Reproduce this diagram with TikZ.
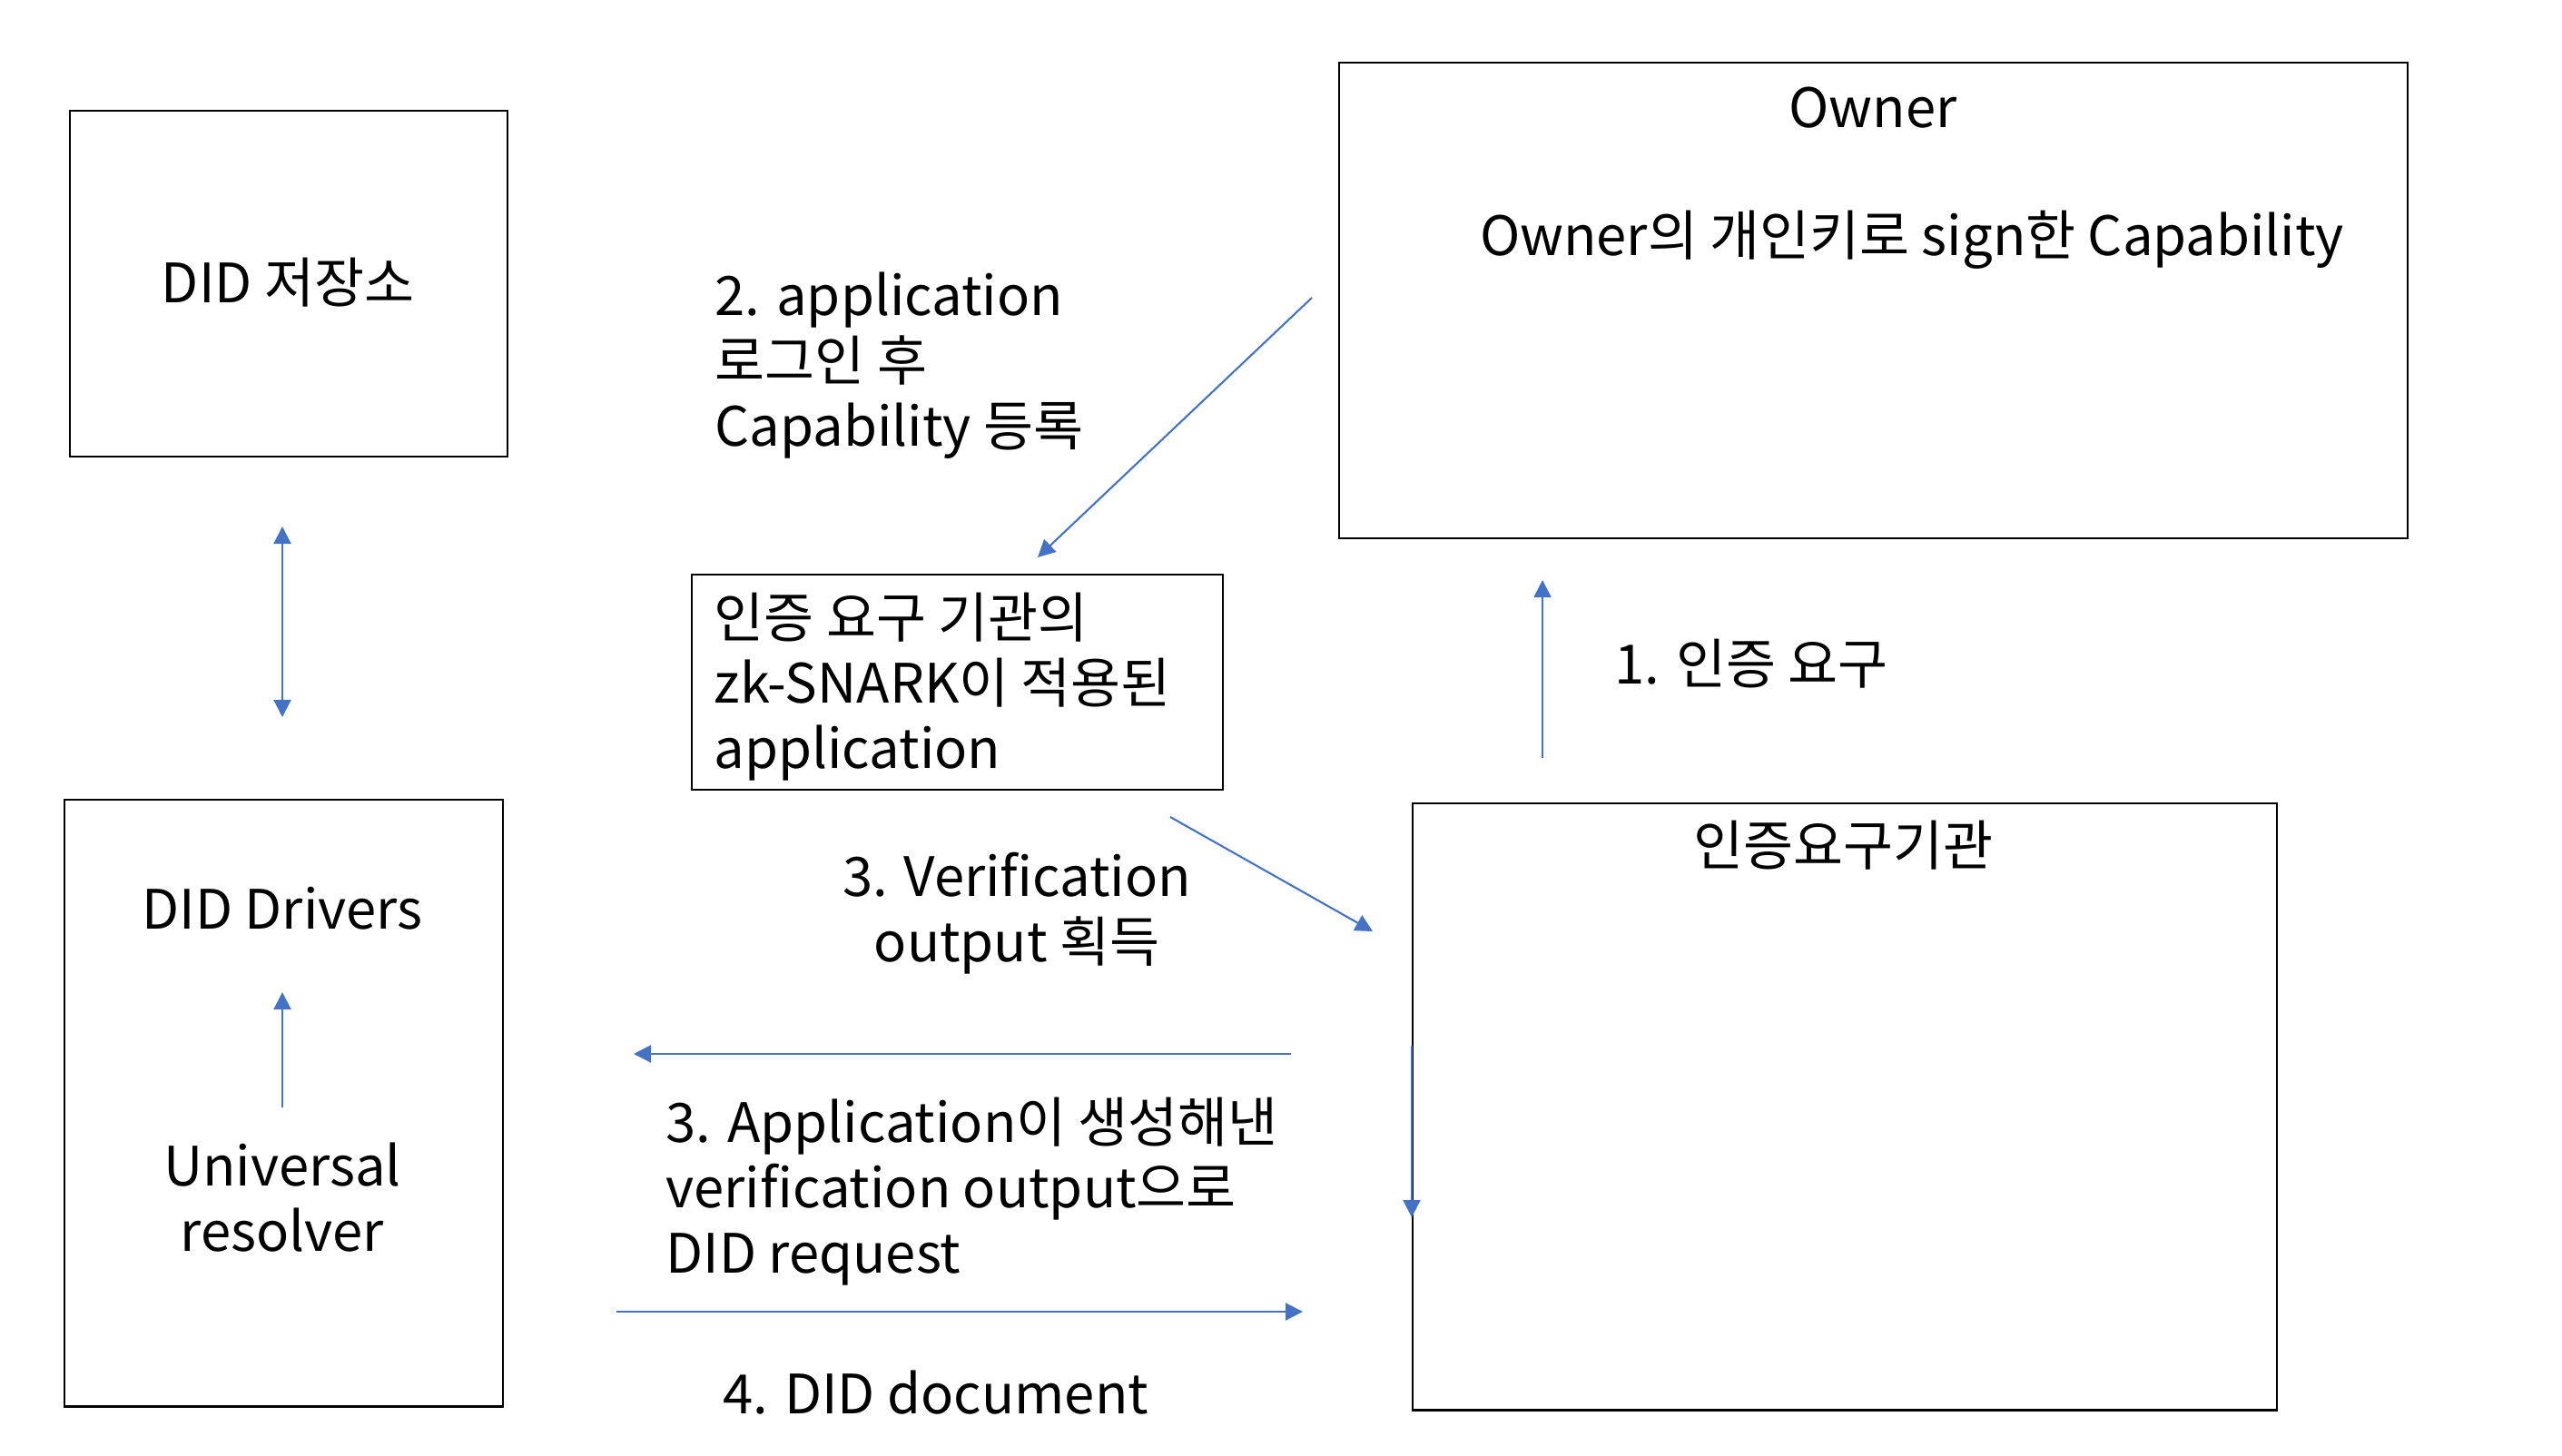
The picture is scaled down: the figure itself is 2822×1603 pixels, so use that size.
\documentclass[tikz,border=0pt]{standalone}
\usepackage{fontspec}
\setmainfont{Noto Sans CJK KR}
\usetikzlibrary{arrows.meta}
\usetikzlibrary{positioning}
\definecolor{linkblue}{HTML}{4472C4}
\tikzset{tri/.tip={Triangle[length=0.19cm,width=0.19cm]}}

\begin{document}
\begin{tikzpicture} [x=0.01cm,y=-0.01cm,
  every node/.style={font=\fontsize{17}{20.5}\selectfont,inner sep=0pt},
  box/.style={draw,line width=0.6pt,anchor=north west},
  link/.style={draw=linkblue,line width=0.6pt,-tri}]
\useasboundingbox (0,0) rectangle (2822,1603);

% boxes
\node[box,minimum width=4.82cm,minimum height=3.81cm] (store) at (76,121) {};
\node[box,minimum width=4.83cm,minimum height=6.68cm] (drivers) at (70,880) {};
\node[box,minimum width=11.76cm,minimum height=5.24cm] (owner) at (1474,68) {};
\node[box,minimum width=5.85cm,minimum height=2.37cm] (zkapp) at (761,632) {};
\node[box,minimum width=9.51cm,minimum height=6.68cm] (verifier) at (1555,884) {};

% texts
\node (storetxt) at (317,311) {DID 저장소};
\node (ownertxt) at (2063,119) {Owner};
\node (captxt) at (2106,264) {Owner의 개인키로 sign한 Capability};
\node[anchor=west,align=left] (step2) at (787,403) {2. application\\로그인 후\\Capability 등록};
\node[anchor=west,align=left] (apptxt) at (786,757) {인증 요구 기관의\\zk-SNARK이 적용된\\application};
\node[anchor=west] (step1) at (1778,731) {1. 인증 요구};
\node (vertxt) at (2030,931) {인증요구기관};
\node[align=center] (step3a) at (1120,1006) {3. Verification\\output 획득};
\node (drvtxt) at (311,1001) {DID Drivers};
\node[align=center] (restxt) at (311,1319) {Universal\\resolver};
\node[anchor=west,align=left] (step3b) at (733,1313) {3. Application이 생성해낸\\verification output으로\\DID request};
\node[anchor=west] (step4) at (796,1534) {4. DID document};

% arrow ends
\coordinate (o1) at (1445,328);
\coordinate (o2) at (1143,614);
\coordinate (s1) at (311,580);
\coordinate (s2) at (311,790);
\coordinate (r1) at (1699,835);
\coordinate (r2) at (1699,639);
\coordinate (z1) at (1289,900);
\coordinate (z2) at (1512,1026);
\coordinate (q1) at (1422,1161);
\coordinate (q2) at (698,1161);
\coordinate (d1) at (679,1445);
\coordinate (d2) at (1435,1445);
\coordinate (v1) at (1555,1152);
\coordinate (v2) at (1555,1341);
\coordinate (u1) at (311,1220);
\coordinate (u2) at (311,1093);

\draw[link](o1)--(o2);
\draw[link,tri-tri](s1)--(s2);
\draw[link](r1)--(r2);
\draw[link](z1)--(z2);
\draw[link](q1)--(q2);
\draw[link](d1)--(d2);
\draw[link](v1)--(v2);
\draw[link](u1)--(u2);
\end{tikzpicture}
\end{document}
